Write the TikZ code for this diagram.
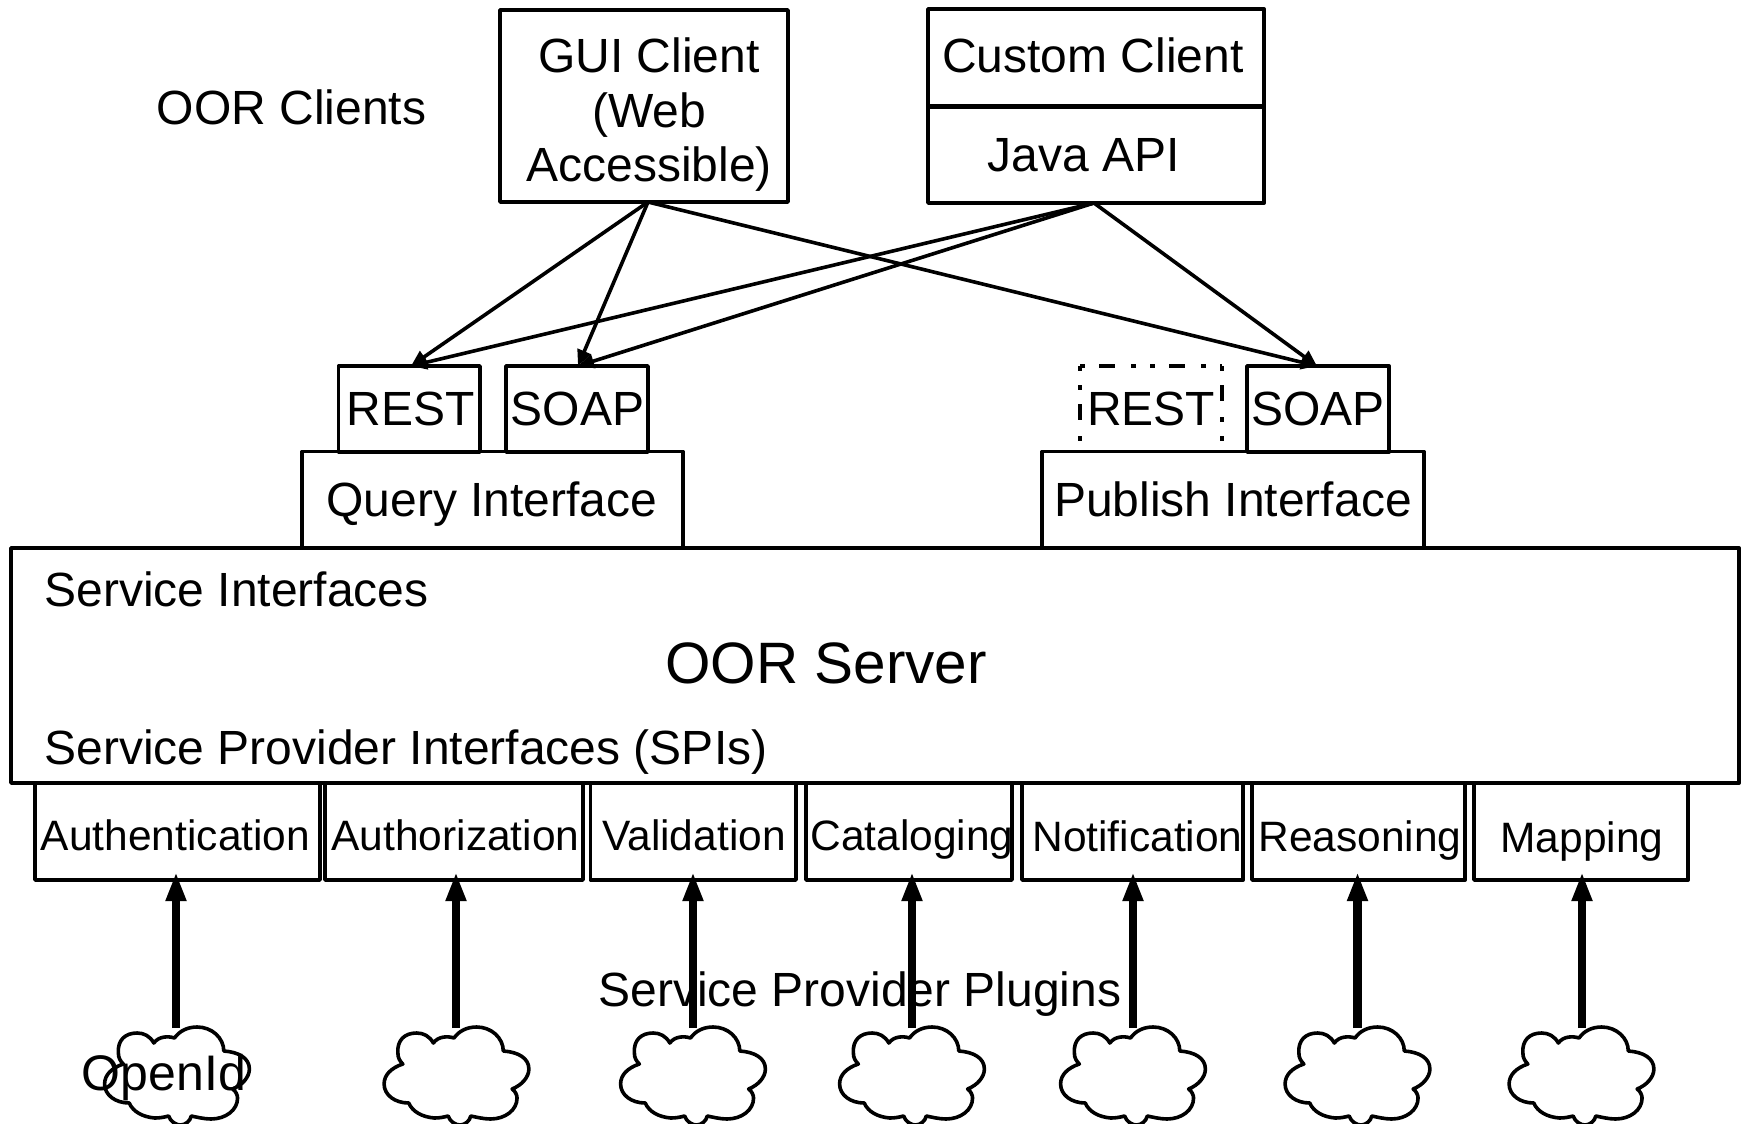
\documentclass[tikz,border=0pt]{standalone}
\usepackage{fontspec}
\setmainfont{Liberation Sans}
\usetikzlibrary{arrows.meta}
\newcommand{\bxnode}[6][boxed]{\node[#1,minimum width={(#5-#3)*1pt},minimum height={(#6-#4)*1pt}] (#2) at ({(#3+#5)/2},{(#4+#6)/2}) {};}
\newcommand{\cloudshape}[2]{%
\draw[cloudline,shift={(#1,0)},xscale=0.985] (-23,1043) .. controls (-27,1036) and (-33,1033) .. (-40,1033)
 .. controls (-52,1033) and (-60,1040) .. (-59,1053) .. controls (-59,1058) and (-57,1061) .. (-54,1064)
 .. controls (-66,1068) and (-73,1075) .. (-73,1084) .. controls (-73,1095) and (-62,1103) .. (-48,1103)
 .. controls (-44,1112) and (-34,1117) .. (-22,1118) .. controls (-16,1118) and (-12,1117) .. (-8,1116)
 .. controls (-6,1122) and (0,1125) .. (4,1125) .. controls (9,1125) and (14,1121) .. (15,1116)
 .. controls (20,1117) and (28,1119) .. (35,1119) .. controls (50,1119) and (62,1110) .. (62,1098)
 .. controls (62,1095) and (60,1091) .. (57,1089) .. controls (67,1085) and (74,1077) .. (74,1069)
 .. controls (74,1058) and (63,1052) .. (48,1051) .. controls (48,1038) and (36,1027) .. (21,1027)
 .. controls (11,1027) and (3,1031) .. (-2,1038) .. controls (-8,1036) and (-18,1036) .. (-23,1043) -- cycle;
\coordinate (#2) at (#1,1028);}
\tikzset{
 boxed/.style={draw,line width=3.8pt,inner sep=0pt,outer sep=0pt,rectangle,line join=round},
 ghost/.style={inner sep=0pt,outer sep=0pt,rectangle},
 txt/.style={font=\fontsize{48}{54}\selectfont,inner sep=0pt,outer sep=0pt,anchor=base},
 txtl/.style={txt,anchor=base west},
 big/.style={font=\fontsize{58.4}{64}\selectfont,inner sep=0pt,anchor=base},
 small/.style={font=\fontsize{42.5}{48}\selectfont,inner sep=0pt,anchor=base},
 thin arrow/.style={line width=3.6pt,-{Triangle[length=16pt,width=14pt]}},
 thick arrow/.style={line width=8.5pt,-{Triangle[length=29pt,width=19pt]},shorten >=-8pt},
 cloudline/.style={line width=3.6pt,line join=round},
 dashbits/.style={line width=4pt,dash pattern=on 16pt off 16pt on 5pt off 14pt on 5pt off 14pt},
}
\begin{document}
\begin{tikzpicture}[x=1pt,y=-1pt]
\useasboundingbox (0,0) rectangle (1743,1124);
% client boxes
\bxnode{gui}{500}{10}{788}{202}
\bxnode{custom}{928}{9}{1264}{106}
\bxnode{java}{928}{106}{1264}{203}
\draw[line width=5pt] (custom.south west) -- (custom.south east);
\node[txt] (guit) at (649,73) {GUI Client};
\node[txt] (guit2) at (649,127) {(Web};
\node[txt] (guit3) at (649,181) {Accessible)};
\node[txt] (clients) at (291.5,124) {OOR Clients};
\node[txt] (customt) at (1093,73) {Custom Client};
\node[txt] (javat) at (1084,171) {Java API};
% protocol boxes
\bxnode{rest1}{338.5}{366}{480}{452}
\bxnode{soap1}{506}{366}{648}{452}
\bxnode{soap2}{1247}{366}{1389}{452}
\bxnode[ghost]{rest2}{1080}{366}{1222}{452}
\draw[dashbits,dash phase=51pt] (rest2.north west) -- (rest2.north east);
\draw[dashbits,dash phase=51pt] (rest2.north east) -- (rest2.south east);
\draw[dashbits,dash phase=32pt] (rest2.north west) -- (rest2.south west);
\node[txt] (rest1t) at (410.5,425.5) {REST};
\node[txt] (soap1t) at (577.5,425.5) {SOAP};
\node[txt] (rest2t) at (1151,425.5) {REST};
\node[txt] (soap2t) at (1318,425.5) {SOAP};
% interfaces
\bxnode{query}{302}{451.5}{683}{548}
\bxnode{publish}{1042}{451.5}{1424}{548}
\node[txt] (queryt) at (492,516) {Query Interface};
\node[txt] (publisht) at (1233,516) {Publish Interface};
% server
\bxnode{server}{11}{548}{1739}{783}
\node[txtl] (si) at (44.5,606) {Service Interfaces};
\node[big] (oor) at (826,683) {OOR Server};
\node[txtl] (spi) at (44.5,764) {Service Provider Interfaces (SPIs)};
% plugin boxes
\bxnode{p1}{35}{783}{320}{880}
\bxnode{p2}{325}{783}{583}{880}
\bxnode{p3}{590.5}{783}{796}{880}
\bxnode{p4}{806}{783}{1012}{880}
\bxnode{p5}{1022}{783}{1243}{880}
\bxnode{p6}{1252}{783}{1465}{880}
\bxnode{p7}{1474}{783}{1688}{880}
\node[small] (p1t) at (175.5,850) {Authentication};
\node[small] (p2t) at (455.5,850) {Authorization};
\node[small] (p3t) at (694,850) {Validation};
\node[small] (p4t) at (912,850) {Cataloging};
\node[small] (p5t) at (1137.5,851) {Notification};
\node[small] (p6t) at (1360,851) {Reasoning};
\node[small] (p7t) at (1582,852) {Mapping};
\node[txt] (plugins) at (860,1006) {Service Provider Plugins};
% clouds
\cloudshape{176.5}{c1}
\cloudshape{456}{c2}
\cloudshape{692.5}{c3}
\cloudshape{911.5}{c4}
\cloudshape{1132.5}{c5}
\cloudshape{1357}{c6}
\cloudshape{1581}{c7}
\node[font=\fontsize{50}{54}\selectfont,inner sep=0pt,anchor=base] (openid) at (164,1090) {OpenId};
% plugin arrows
\coordinate (a1) at (176,1028);\coordinate (a2) at (456,1028);\coordinate (a3) at (693,1028);
\coordinate (a4) at (912,1028);\coordinate (a5) at (1133,1028);\coordinate (a6) at (1357.5,1028);\coordinate (a7) at (1582,1028);
\foreach \c/\p in {a1/p1,a2/p2,a3/p3,a4/p4,a5/p5,a6/p6,a7/p7}
  \draw[thick arrow] (\c) -- (\c |- \p.south);
% client arrows
\coordinate (guib) at (648,202);
\coordinate (javab) at (1094,203);
\coordinate (r1t) at (411,366);
\coordinate (s1t) at (578,366);
\coordinate (s2t) at (1317,366);
\foreach \a/\b in {guib/r1t,guib/s1t,guib/s2t,javab/r1t,javab/s1t,javab/s2t}
  \draw[thin arrow] (\a) -- (\b);
\end{tikzpicture}
\end{document}
